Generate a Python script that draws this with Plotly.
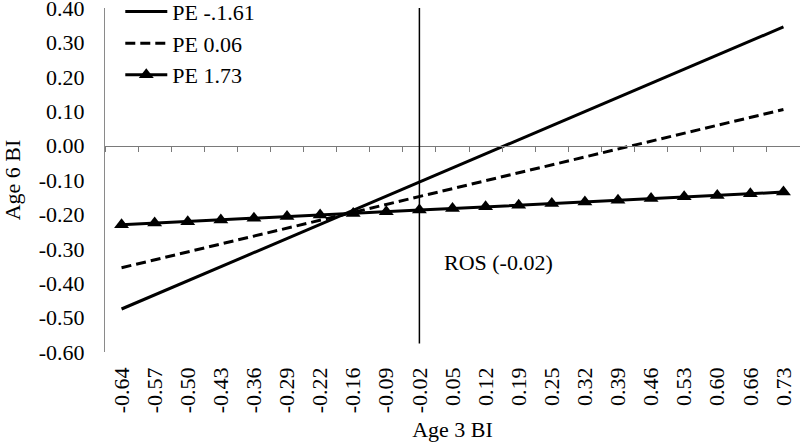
import plotly.graph_objects as go

x_labels = ["-0.64", "-0.57", "-0.50", "-0.43", "-0.36", "-0.29", "-0.22", "-0.16",
            "-0.09", "-0.02", "0.05", "0.12", "0.19", "0.25", "0.32", "0.39",
            "0.46", "0.53", "0.60", "0.66", "0.73"]

pe_low = [-0.475, -0.434, -0.393, -0.352, -0.311, -0.270, -0.229, -0.188, -0.147, -0.106,
          -0.065, -0.024, 0.017, 0.058, 0.099, 0.140, 0.181, 0.222, 0.263, 0.304, 0.345]
pe_mid = [-0.355, -0.332, -0.309, -0.286, -0.263, -0.240, -0.217, -0.194, -0.171, -0.148,
          -0.125, -0.102, -0.079, -0.056, -0.033, -0.010, 0.013, 0.036, 0.059, 0.082, 0.105]
pe_high = [-0.230, -0.225, -0.221, -0.216, -0.211, -0.206, -0.202, -0.197, -0.192, -0.187,
           -0.183, -0.178, -0.173, -0.168, -0.164, -0.159, -0.154, -0.149, -0.145, -0.140, -0.135]

y_ticks = [0.40, 0.30, 0.20, 0.10, 0.00, -0.10, -0.20, -0.30, -0.40, -0.50, -0.60]
ros_label = "-0.02"
ros_text = "ROS (-0.02)"

FONT = "Liberation Serif, Times New Roman, serif"
FS = 22

fig = go.Figure()
fig.add_trace(go.Scatter(x=x_labels, y=pe_low, name="PE -.1.61", mode="lines",
                         line=dict(color="black", width=3)))
fig.add_trace(go.Scatter(x=x_labels, y=pe_mid, name="PE 0.06", mode="lines",
                         line=dict(color="black", width=3, dash="10px,5px")))
fig.add_trace(go.Scatter(x=x_labels, y=pe_high, name="PE 1.73", mode="lines+markers",
                         line=dict(color="black", width=3),
                         marker=dict(symbol="triangle-up", size=13, color="black")))
# invisible trace for the zero-crossing axis
fig.add_trace(go.Scatter(x=x_labels, y=[0] * len(x_labels), xaxis="x2", mode="lines",
                         line=dict(width=0), opacity=0, showlegend=False, hoverinfo="skip"))

ros_idx = x_labels.index(ros_label)
fig.add_shape(type="line", xref="x", yref="y", x0=ros_idx, x1=ros_idx, y0=-0.575, y1=0.40,
              line=dict(color="black", width=1.5))
fig.add_annotation(x=ros_idx, y=-0.34, xref="x", yref="y", text=ros_text, showarrow=False,
                   xanchor="left", xshift=23, font=dict(family=FONT, size=FS, color="black"))

fig.update_layout(
    width=800, height=442,
    margin=dict(l=105, r=0, t=8, b=90, autoexpand=False),
    paper_bgcolor="white", plot_bgcolor="white",
    font=dict(family=FONT, size=FS, color="black"),
    showlegend=True,
    legend=dict(x=0.022, y=1.05, xanchor="left", yanchor="top", bgcolor="rgba(0,0,0,0)",
                font=dict(family=FONT, size=FS), itemwidth=42),
    xaxis=dict(type="category", categoryorder="array", categoryarray=x_labels,
               range=[-0.5, len(x_labels) - 0.5], automargin=False,
               showline=False, showgrid=False, zeroline=False, ticks="",
               tickangle=-90, ticklabelstandoff=10,
               title=dict(text="Age 3 BI", standoff=11, font=dict(family=FONT, size=FS))),
    xaxis2=dict(type="category", categoryorder="array", categoryarray=x_labels,
                range=[-0.5, len(x_labels) - 0.5], overlaying="x", anchor="free",
                position=0.6, showline=True, linecolor="#7a7a7a", linewidth=1.2,
                ticks="outside", ticklen=5, tickcolor="#7a7a7a", tickson="boundaries",
                showticklabels=False, showgrid=False, zeroline=False, automargin=False),
    yaxis=dict(range=[-0.60, 0.4001], tickvals=y_ticks, automargin=False,
               ticktext=[f"{v:.2f}" for v in y_ticks], ticklabeloverflow="allow",
               showline=True, linecolor="#8a8a8a", linewidth=1.2, showgrid=False,
               zeroline=False, ticks="", ticklabelstandoff=15,
               title=dict(text="Age 6 BI", standoff=20, font=dict(family=FONT, size=FS))),
)

fig.write_html("out.html", config={"displayModeBar": False},
               post_script="document.body.style.margin='0';")
